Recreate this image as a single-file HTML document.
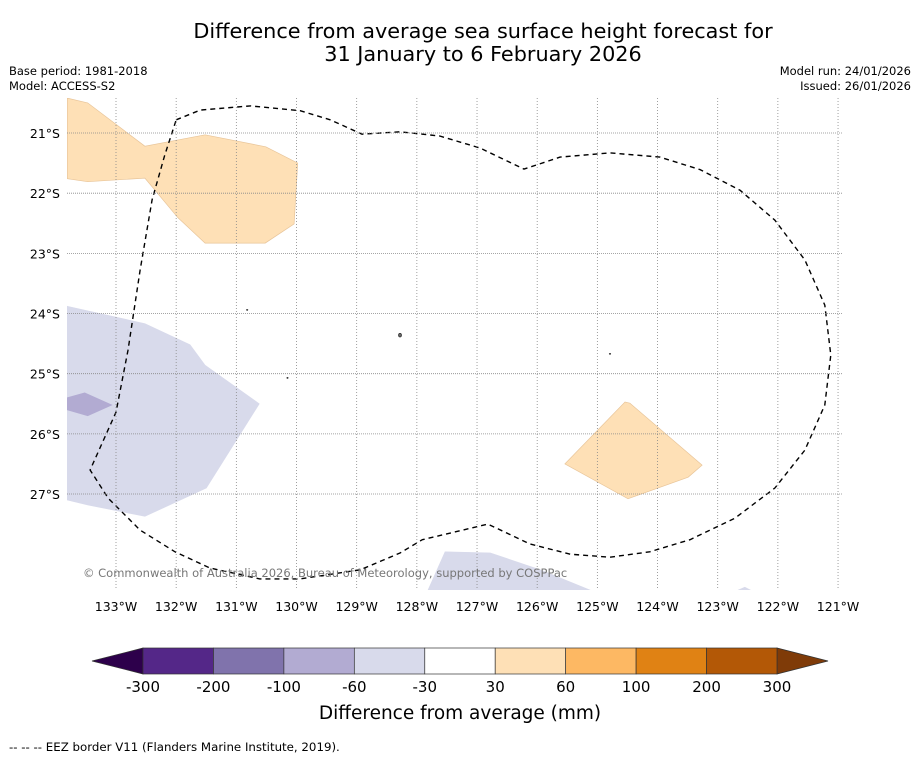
<!DOCTYPE html>
<html><head><meta charset="utf-8">
<style>
body{margin:0;background:#fff;width:919px;height:758px;overflow:hidden;font-family:"DejaVu Sans","Liberation Sans",sans-serif;}
svg text{font-family:"DejaVu Sans","Liberation Sans",sans-serif;}
</style></head>
<body>
<svg id="chart" width="919" height="758" xmlns="http://www.w3.org/2000/svg">
<text x="483" y="38" font-size="20.8" text-anchor="middle" fill="#000">Difference from average sea surface height forecast for</text>
<text x="483" y="61" font-size="20.8" text-anchor="middle" fill="#000">31 January to 6 February 2026</text>
<text x="9" y="75" font-size="11.5">Base period: 1981-2018</text>
<text x="9" y="90" font-size="11.5">Model: ACCESS-S2</text>
<text x="911" y="75" font-size="11.5" text-anchor="end">Model run: 24/01/2026</text>
<text x="911" y="90" font-size="11.5" text-anchor="end">Issued: 26/01/2026</text>
<defs><clipPath id="mapclip"><rect x="67" y="98" width="776" height="492"/></clipPath></defs>
<g id="map"></g>
<g id="cbar"></g>
<text x="460" y="719" font-size="18.5" text-anchor="middle">Difference from average (mm)</text>
<text x="9" y="751" font-size="11.8">--  --  -- EEZ border V11 (Flanders Marine Institute, 2019).</text>
</svg>
<script>
// Longitude (°W) ticks and latitude (°S) ticks
const lonTicks=[133,132,131,130,129,128,127,126,125,124,123,122,121];
const latTicks=[21,22,23,24,25,26,27];
// Anomaly polygons (lon °W, lat °S)
const orangeNW=[[133.81,20.42],[133.47,20.50],[132.52,21.22],[131.52,21.03],[130.51,21.23],[129.98,21.50],[130.04,22.51],[130.52,22.83],[131.52,22.83],[131.97,22.41],[132.52,21.75],[133.47,21.81],[133.81,21.76]];
const orangeSE=[[125.54,26.50],[124.54,25.47],[124.46,25.49],[123.26,26.52],[123.49,26.72],[124.49,27.08]];
const purpleW=[[133.81,23.88],[132.52,24.17],[131.77,24.52],[131.52,24.86],[130.62,25.50],[131.50,26.90],[132.52,27.37],[133.47,27.18],[133.81,27.10]];
const purpleDark=[[133.81,25.40],[133.52,25.32],[133.07,25.52],[133.47,25.70],[133.81,25.60]];
const purpleS=[[127.86,28.7],[127.53,27.96],[126.78,27.98],[125.95,28.26],[124.87,28.7]];
const purpleSE=[[122.9,28.7],[122.55,28.55],[122.25,28.7]];
const eez=[[132.00,20.78],[131.60,20.62],[130.77,20.55],[129.94,20.63],[129.44,20.78],[128.91,21.02],[128.28,20.98],[127.62,21.05],[126.95,21.25],[126.22,21.60],[125.62,21.40],[124.79,21.33],[123.96,21.40],[123.29,21.61],[122.63,21.95],[122.05,22.45],[121.55,23.11],[121.22,23.86],[121.12,24.69],[121.22,25.52],[121.55,26.27],[122.05,26.90],[122.71,27.40],[123.46,27.76],[124.13,27.96],[124.79,28.05],[125.45,28.00],[126.12,27.83],[126.82,27.50],[127.28,27.61],[127.91,27.76],[128.28,27.98],[128.94,28.26],[129.94,28.41],[130.61,28.41],[131.44,28.23],[132.02,27.96],[132.60,27.60],[133.13,27.07],[133.43,26.60],[133.00,25.64],[132.80,24.61],[132.60,23.28],[132.40,22.11],[132.19,21.37],[132.00,20.78]];
const islands=[[128.28,24.36],[130.82,23.94],[130.15,25.07],[124.79,24.67]];
// Colorbar
const cbBounds=["-300","-200","-100","-60","-30","30","60","100","200","300"];
const cbColors=["#542788","#8073ac","#b2abd2","#d8daeb","#ffffff","#fee0b6","#fdb863","#e08214","#b35806"];
const cbExt=["#2d004b","#7f3b08"];

const NS="http://www.w3.org/2000/svg";
const PX=60.17;
function xS(lon){return 116+(133-lon)*PX;}
function yS(lat){return 133+(lat-21)*PX;}
function mk(tag,attrs,parent){const e=document.createElementNS(NS,tag);for(const k in attrs)e.setAttribute(k,attrs[k]);parent.appendChild(e);return e;}
const map=document.getElementById('map');
const clip=mk('g',{'clip-path':'url(#mapclip)'},map);
function poly(pts,fill,stroke,name){
  const e=mk('polygon',{points:pts.map(p=>xS(p[0]).toFixed(1)+','+yS(p[1]).toFixed(1)).join(' '),fill:fill,stroke:stroke,'stroke-width':0.7},clip);
  
  
}
poly(orangeNW,'#fee0b6','#e8c59a','anomaly-30-60-northwest');
poly(orangeSE,'#fee0b6','#e8c59a','anomaly-30-60-southeast');
poly(purpleW,'#d8daeb','#d8daeb','anomaly-minus60-minus30-west');
poly(purpleDark,'#b2abd2','#b2abd2','anomaly-minus100-minus60-west');
poly(purpleS,'#d8daeb','#d8daeb','anomaly-minus60-minus30-south');
poly(purpleSE,'#d8daeb','#d8daeb','anomaly-minus60-minus30-southeast');
islands.forEach((p,i)=>{
  const e=mk('ellipse',{cx:xS(p[0]),cy:yS(p[1]),rx:i==0?1.6:0.8,ry:i==0?2:0.6,fill:'#666',stroke:'#000','stroke-width':0.5},clip);
  
  
});
lonTicks.forEach(l=>{
  const g=mk('line',{x1:xS(l),x2:xS(l),y1:98,y2:590,stroke:'#888','stroke-width':0.8,'stroke-dasharray':'1,2'},map);
  
  
  const t=mk('text',{x:xS(l),y:611,'font-size':12.5,'text-anchor':'middle'},map);
  t.textContent=l+'°W';
  
  
});
latTicks.forEach(l=>{
  const g=mk('line',{x1:67,x2:843,y1:yS(l),y2:yS(l),stroke:'#888','stroke-width':0.8,'stroke-dasharray':'1,1'},map);
  
  
  const t=mk('text',{x:60,y:yS(l)+5,'font-size':12.5,'text-anchor':'end'},map);
  t.textContent=l+'°S';
  
  
});
const ez=mk('polyline',{points:eez.map(p=>xS(p[0]).toFixed(1)+','+yS(p[1]).toFixed(1)).join(' '),fill:'none',stroke:'#000','stroke-width':1.4,'stroke-dasharray':'5,4','stroke-linejoin':'round'},clip);


const cp=mk('text',{x:83,y:577,'font-size':11.5,fill:'#777'},map);
cp.textContent='© Commonwealth of Australia 2026, Bureau of Meteorology, supported by COSPPac';


const cb=document.getElementById('cbar');
const cx0=143,cx1=777,cy0=648,cy1=674,seg=(cx1-cx0)/cbColors.length;
const le=mk('polygon',{points:`${cx0},${cy0} ${cx0},${cy1} 92,661`,fill:cbExt[0],stroke:'#333','stroke-width':0.7},cb);


const re=mk('polygon',{points:`${cx1},${cy0} ${cx1},${cy1} 828,661`,fill:cbExt[1],stroke:'#333','stroke-width':0.7},cb);


cbColors.forEach((c,i)=>{
  const r=mk('rect',{x:cx0+i*seg,y:cy0,width:seg,height:cy1-cy0,fill:c,stroke:'#333','stroke-width':0.7},cb);
  
  
});
cbBounds.forEach((b,i)=>{
  const t=mk('text',{x:cx0+i*seg,y:692,'font-size':15,'text-anchor':'middle'},cb);
  t.textContent=b;
  
  
});
</script>
</body></html>
